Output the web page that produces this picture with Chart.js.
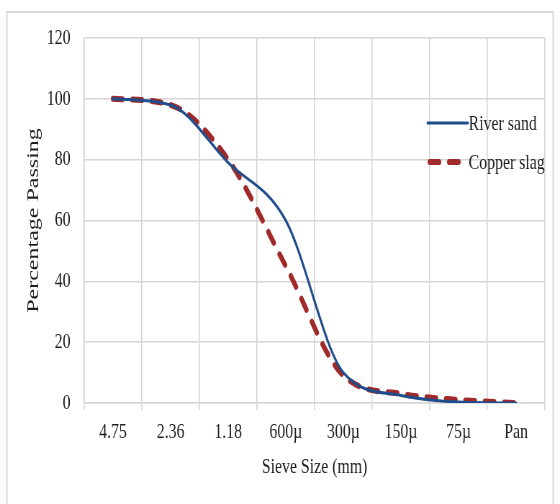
<!DOCTYPE html>
<html>
<head>
<meta charset="utf-8">
<script src="https://cdn.jsdelivr.net/npm/chart.js@4/dist/chart.umd.min.js"></script>
<style>
  html, body { margin: 0; padding: 0; overflow: hidden; background: #fff; }
  /* the reference picture is squeezed sideways, so draw wide and squeeze */
  #wrap { width: 778px; height: 504px; transform: scaleX(0.7198); transform-origin: 0 0; }
</style>
</head>
<body>
<div id="wrap"><canvas id="myChart" width="778" height="504"></canvas></div>
<script>
const sieveSizes = ['4.75', '2.36', '1.18', '600µ', '300µ', '150µ', '75µ', 'Pan'];
const riverSand = [100, 98, 79, 60, 10, 2.5, 0.3, 0];
const copperSlag = [100, 98, 80, 45, 9, 3, 1, 0];
const yMin = 0, yMax = 120, yStep = 20;

const serif = 'Liberation Serif';
const textColor = '#1e1e1e';
const gridColor = '#d6d6d6';

// light frame round the whole figure
const framePlugin = {
    id: 'frame',
    beforeDraw(chart) {
        const ctx = chart.ctx;
        ctx.save();
        ctx.fillStyle = '#fff';
        ctx.fillRect(0, 0, chart.width, chart.height);
        ctx.strokeStyle = '#d9d9d9';
        ctx.lineWidth = 2;
        ctx.strokeRect(9.5, 12, 759, 520);
        ctx.restore();
    }
};

// legend drawn inside the plot, on the right
const insideLegend = {
    id: 'insideLegend',
    afterDraw(chart) {
        const ctx = chart.ctx;
        chart.data.datasets.forEach((ds, i) => {
            const y = 123 + i * 39;
            ctx.save();
            ctx.strokeStyle = ds.borderColor;
            ctx.lineWidth = ds.borderWidth;
            ctx.lineCap = ds.borderCapStyle || 'butt';
            ctx.setLineDash(ds.borderDash || []);
            ctx.beginPath();
            ctx.moveTo(ds.borderDash ? 597 : 594, y);
            ctx.lineTo(ds.borderDash ? 642 : 650, y);
            ctx.stroke();
            ctx.setLineDash([]);
            ctx.fillStyle = textColor;
            ctx.font = '22px "' + serif + '"';
            ctx.textBaseline = 'middle';
            ctx.fillText(ds.label, 651, y + 1);
            ctx.restore();
        });
    }
};

new Chart(document.getElementById('myChart'), {
    type: 'line',
    data: {
        labels: sieveSizes,
        datasets: [{
            label: 'River sand',
            data: riverSand,
            borderColor: '#1f4e8c',
            borderWidth: 3,
            borderCapStyle: 'round',
            pointRadius: 0,
            cubicInterpolationMode: 'monotone',
            fill: false
        }, {
            label: 'Copper slag',
            data: copperSlag,
            borderColor: '#a02a2a',
            borderWidth: 6,
            borderDash: [13, 14],
            borderCapStyle: 'round',
            borderJoinStyle: 'round',
            pointRadius: 0,
            cubicInterpolationMode: 'monotone',
            fill: false
        }]
    },
    options: {
        responsive: false,
        animation: false,
        devicePixelRatio: 1,
        layout: { padding: { top: 38, right: 21, left: 0, bottom: 0 } },
        plugins: {
            legend: { display: false },
            tooltip: { enabled: false }
        },
        scales: {
            x: {
                offset: true,
                afterFit: s => { s.height = 101; },
                grid: { offset: true, color: gridColor, lineWidth: 1.6, tickLength: 7, tickColor: gridColor },
                border: { color: gridColor, width: 1.6 },
                ticks: { color: textColor, padding: 9, font: { family: serif, size: 22 }, maxRotation: 0 },
                title: {
                    display: true,
                    text: 'Sieve Size (mm)',
                    color: textColor,
                    font: { family: serif, size: 22 },
                    padding: { top: 0, bottom: 24 }
                }
            },
            y: {
                min: yMin,
                max: yMax,
                afterFit: s => { s.width = 117; },
                grid: { color: gridColor, lineWidth: 1.6, drawTicks: false },
                border: { color: gridColor, width: 1.6 },
                ticks: { stepSize: yStep, color: textColor, padding: 19, font: { family: serif, size: 22 } },
                title: {
                    display: true,
                    text: 'Percentage Passing',
                    color: textColor,
                    font: { family: serif, size: 24 },
                    padding: { top: 32, bottom: 0 }
                }
            }
        }
    },
    plugins: [framePlugin, insideLegend]
});
</script>
</body>
</html>
